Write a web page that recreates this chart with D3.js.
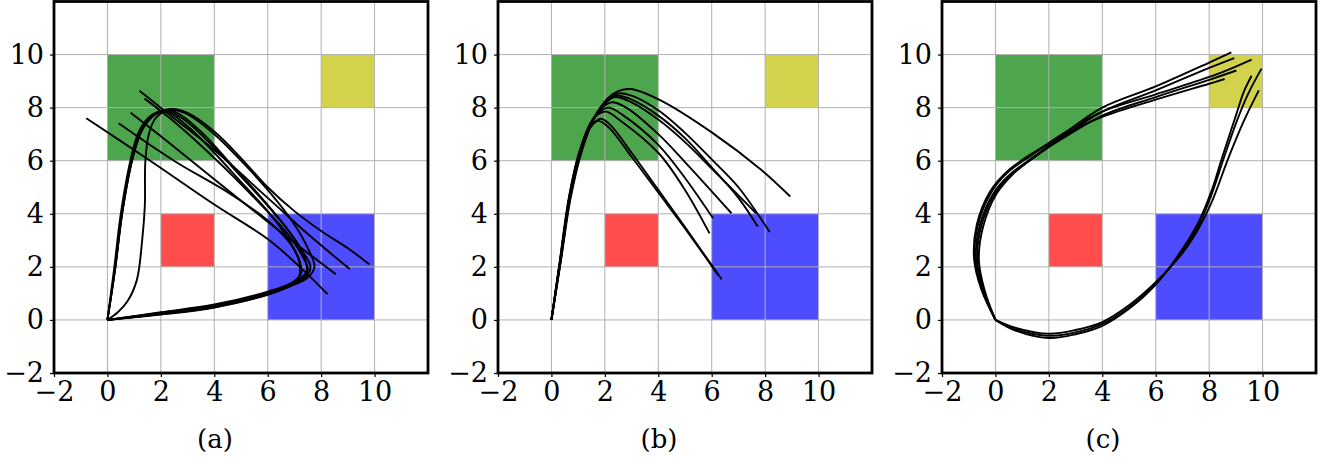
<!DOCTYPE html>
<html>
<head>
<meta charset="utf-8">
<script src="https://cdn.jsdelivr.net/npm/d3@7"></script>
<style>
  body { margin: 0; background: #fff; }
  svg text { font-family: "DejaVu Serif", serif; fill: #000; }
</style>
</head>
<body>
<script>
// axis ticks shared by the three panels
const ticks = [-2, 0, 2, 4, 6, 8, 10];
const captions = ['(a)', '(b)', '(c)'];

// coloured regions: lower-left corner, width, height
const regionNames = ['green', 'yellow', 'red', 'blue'];
const regionX = [0, 8, 2, 6];
const regionY = [6, 8, 2, 0];
const regionW = [4, 2, 2, 4];
const regionH = [4, 2, 2, 4];

// trajectories of panel (a)
const pathsA = [
  [[0,0],[0.3,2],[0.55,4],[0.92,6],[1.3,7.15],[1.8,7.75],[2.4,7.95],[3.0,7.8],[4,7.1],[5,6.1],[6,5.0],[7,4.1],[8,3.35],[9,2.7],[9.8,2.1]],
  [[0,0],[0.3,2],[0.55,4],[0.92,6],[1.25,7.1],[1.7,7.7],[2.3,7.92],[2.9,7.8],[4,7.0],[5,6.0],[6,4.9],[7,3.6],[7.55,2.6],[7.75,2.0],[7.5,1.6],[6.8,1.25],[6,0.95],[4,0.48],[2,0.22],[0,0]],
  [[0,0],[0.26,2],[0.5,4],[0.86,6],[1.18,7.1],[1.63,7.7],[2.2,7.9],[2.7,7.75],[3.6,7.0],[4.6,5.9],[5.6,4.8],[6.6,3.6],[7.3,2.6],[7.6,2.0],[7.4,1.6],[6.8,1.3],[6,1.02],[4,0.55],[2,0.27],[0,0]],
  [[0,0],[0.29,2],[0.54,4],[0.9,6],[1.22,7.1],[1.7,7.7],[2.2,7.85],[3,7.3],[4,6.3],[5,5.2],[6,4.1],[6.8,3.0],[7.2,2.2],[7.25,1.75],[6.9,1.4],[6,1.07],[4,0.58],[2,0.29],[0,0]],
  [[0,0],[0.4,0.3],[0.75,0.7],[1.1,1.5],[1.3,3],[1.4,4.3],[1.42,6.0],[1.55,7.0],[1.8,7.6],[2.2,7.85],[2.8,7.6],[3.8,6.7],[5,5.4],[6,4.3],[6.9,3.2],[7.4,2.3],[7.45,1.8],[7.0,1.45],[6,1.0],[4,0.5],[2,0.23],[0,0]],
  [[-0.79,7.6],[1.6,6.0],[4,4.35],[6,3.05],[7.2,2.0],[8.24,0.97]],
  [[0.42,7.41],[2.49,6.0],[4.6,4.75],[6,3.75],[6.9,2.8],[7.2,2.1],[7.15,1.6],[6.6,1.2],[6,0.98],[4,0.52],[2,0.25],[0,0]],
  [[0.87,7.81],[2.4,6.6],[4,5.3],[6,3.7],[7.4,2.6],[8.55,1.72]],
  [[1.2,8.64],[2.3,7.75],[4,6.4],[6,4.6],[7.6,3.15],[9.07,1.92]],
  [[1.39,8.34],[2.4,7.55],[4,6.1],[5.5,4.6],[6.7,3.3],[7.3,2.4],[7.5,1.9],[7.2,1.5],[6,0.96],[4,0.47],[2,0.2],[0,0]]
];

// trajectories of panel (b)
const pathsB = [
  [[0,0],[0.35,2.2],[0.72,4.6],[1.15,6.4],[1.6,7.6],[2.1,8.35],[2.5,8.62],[2.96,8.7],[4.03,8.3],[6.04,7.04],[7.85,5.66],[8.94,4.65]],
  [[0,0],[0.34,2.2],[0.7,4.6],[1.12,6.4],[1.55,7.55],[2.0,8.2],[2.46,8.53],[3.0,8.45],[4,7.9],[5,7.05],[6,6.05],[7,5.0],[8.17,3.31]],
  [[0,0],[0.34,2.2],[0.7,4.6],[1.12,6.4],[1.55,7.5],[2.0,8.15],[2.4,8.45],[3.0,8.3],[4,7.7],[5,6.85],[6,5.75],[7,4.6],[7.72,3.52]],
  [[0,0],[0.33,2.2],[0.69,4.6],[1.11,6.4],[1.52,7.45],[1.95,8.1],[2.35,8.4],[3,8.2],[4,7.55],[5,6.7],[6,5.7],[6.9,4.8],[7.66,4.02]],
  [[0,0],[0.33,2.2],[0.68,4.6],[1.1,6.4],[1.5,7.45],[1.9,8.0],[2.25,8.2],[2.8,8.0],[4,7.0],[5,5.95],[6.74,4.02]],
  [[0,0],[0.32,2.2],[0.67,4.6],[1.08,6.4],[1.45,7.4],[1.8,7.85],[2.15,8.0],[2.7,7.7],[4,6.6],[5,5.35],[6.05,3.83]],
  [[0,0],[0.32,2.2],[0.67,4.6],[1.07,6.4],[1.43,7.35],[1.75,7.75],[2.05,7.85],[2.6,7.5],[4,6.3],[5,4.9],[5.92,3.26]],
  [[0,0],[0.32,2.2],[0.66,4.6],[1.05,6.35],[1.45,7.25],[1.83,7.58],[2.2,7.35],[3,6.3],[4,4.9],[5,3.5],[6.37,1.53]],
  [[0,0],[0.31,2.2],[0.65,4.6],[1.04,6.3],[1.42,7.2],[1.75,7.5],[2.15,7.25],[3,6.15],[4,4.8],[5,3.45],[6.24,1.69]]
];

// trajectories of panel (c): upper and lower branches
const pathsC = [
  [[0,0],[-0.4,1.1],[-0.62,2.26],[-0.46,3.52],[0.04,4.75],[0.66,5.5],[1.65,6.3],[2.75,7.15],[4,8.0],[6,8.8],[8,9.7],[8.83,10.08]],
  [[0,0],[-0.44,1.12],[-0.68,2.26],[-0.54,3.5],[-0.04,4.72],[0.58,5.46],[1.58,6.22],[2.7,7.02],[4,7.85],[6,8.65],[8,9.5],[8.94,9.87]],
  [[0,0],[-0.5,1.15],[-0.78,2.3],[-0.66,3.55],[-0.16,4.8],[0.46,5.56],[1.48,6.3],[2.65,7.1],[4,7.85],[6,8.5],[8.27,9.25],[9.59,9.81]],
  [[0,0],[-0.47,1.13],[-0.73,2.27],[-0.6,3.5],[-0.1,4.73],[0.52,5.46],[1.52,6.2],[2.7,6.95],[4,7.7],[6,8.4],[8,9.05],[9.02,9.4]],
  [[0,0],[-0.53,1.16],[-0.8,2.32],[-0.7,3.58],[-0.2,4.84],[0.44,5.6],[1.46,6.33],[2.7,7.05],[4,7.65],[6,8.3],[8,8.9],[8.58,9.08]],
  [[0,0],[0.7,-0.34],[2,-0.6],[3,-0.47],[4,-0.15],[5,0.47],[6,1.36],[7,2.6],[7.58,3.52],[8.02,4.53],[8.55,6.1],[9.0,7.4],[9.45,8.5],[9.96,9.47]],
  [[0,0],[0.7,-0.38],[2,-0.68],[3,-0.54],[4,-0.22],[5,0.42],[6,1.33],[7,2.67],[7.62,3.72],[8.12,4.95],[8.48,6.1],[9.0,7.7],[9.3,8.6],[9.59,9.2]],
  [[0,0],[0.7,-0.28],[2,-0.52],[3,-0.38],[4,-0.08],[5,0.55],[6,1.42],[7,2.52],[7.58,3.4],[8.1,4.45],[8.72,6.1],[9.3,7.5],[9.86,8.65]]
];

const allPaths = [pathsA, pathsB, pathsC];

// styles
const regionColor = {
  green: 'rgb(77,166,77)',
  yellow: 'rgb(210,210,77)',
  red: 'rgb(255,77,77)',
  blue: 'rgb(77,77,255)'
};
const panelLeft = [54, 498, 942];
const plotW = 374, plotTop = 1.5, plotH = 371.5;

const svg = d3.select('body').append('svg')
  .attr('width', 1327)
  .attr('height', 459);

allPaths.forEach((paths, p) => {
  const g = svg.append('g')
    .attr('transform', `translate(${panelLeft[p]},${plotTop})`);

  const x = d3.scaleLinear().domain([-2, 12]).range([0, plotW]);
  const y = d3.scaleLinear().domain([-2, 12]).range([plotH, 0]);

  // regions
  g.selectAll('rect.region')
    .data(regionNames)
    .join('rect')
    .attr('class', 'region')
    .attr('x', (d, i) => x(regionX[i]))
    .attr('y', (d, i) => y(regionY[i] + regionH[i]))
    .attr('width', (d, i) => x(regionX[i] + regionW[i]) - x(regionX[i]))
    .attr('height', (d, i) => y(regionY[i]) - y(regionY[i] + regionH[i]))
    .attr('fill', d => regionColor[d]);

  // grid
  const gridVals = ticks.concat([12]);
  g.selectAll('line.gx')
    .data(gridVals)
    .join('line')
    .attr('x1', d => x(d)).attr('x2', d => x(d))
    .attr('y1', 0).attr('y2', plotH)
    .attr('stroke', '#b0b0b0').attr('stroke-width', 1);
  g.selectAll('line.gy')
    .data(gridVals)
    .join('line')
    .attr('y1', d => y(d)).attr('y2', d => y(d))
    .attr('x1', 0).attr('x2', plotW)
    .attr('stroke', '#b0b0b0').attr('stroke-width', 1);

  // trajectories
  const line = d3.line()
    .x(d => x(d[0]))
    .y(d => y(d[1]))
    .curve(d3.curveCatmullRom.alpha(0.5));
  g.selectAll('path.traj')
    .data(paths)
    .join('path')
    .attr('class', 'traj')
    .attr('d', line)
    .attr('fill', 'none')
    .attr('stroke', '#000')
    .attr('stroke-width', 1.9)
    .attr('stroke-linejoin', 'round');

  // axes
  const fmt = d => d < 0 ? '\u2212' + Math.abs(d) : d;
  const xAxis = d3.axisBottom(x).tickValues(ticks).tickSize(4).tickPadding(5).tickFormat(fmt);
  const yAxis = d3.axisLeft(y).tickValues(ticks).tickSize(4).tickPadding(6).tickFormat(fmt);

  const gx = g.append('g')
    .attr('transform', `translate(0,${plotH})`)
    .call(xAxis);
  const gy = g.append('g').call(yAxis);
  [gx, gy].forEach(a => {
    a.attr('font-size', null).attr('font-family', null);
    a.select('.domain').remove();
    a.selectAll('line').attr('stroke', '#000').attr('stroke-width', 1.2);
    a.selectAll('text')
      .style('font-size', '27px')
      .style('font-family', '"DejaVu Serif", serif');
  });

  // frame
  g.append('rect')
    .attr('width', plotW)
    .attr('height', plotH)
    .attr('fill', 'none')
    .attr('stroke', '#000')
    .attr('stroke-width', 2.8);

  // caption
  g.append('text')
    .attr('x', plotW / 2 - 26)
    .attr('y', 448 - plotTop)
    .attr('text-anchor', 'middle')
    .style('font-size', '26px')
    .text(captions[p]);
});
</script>
</body>
</html>
